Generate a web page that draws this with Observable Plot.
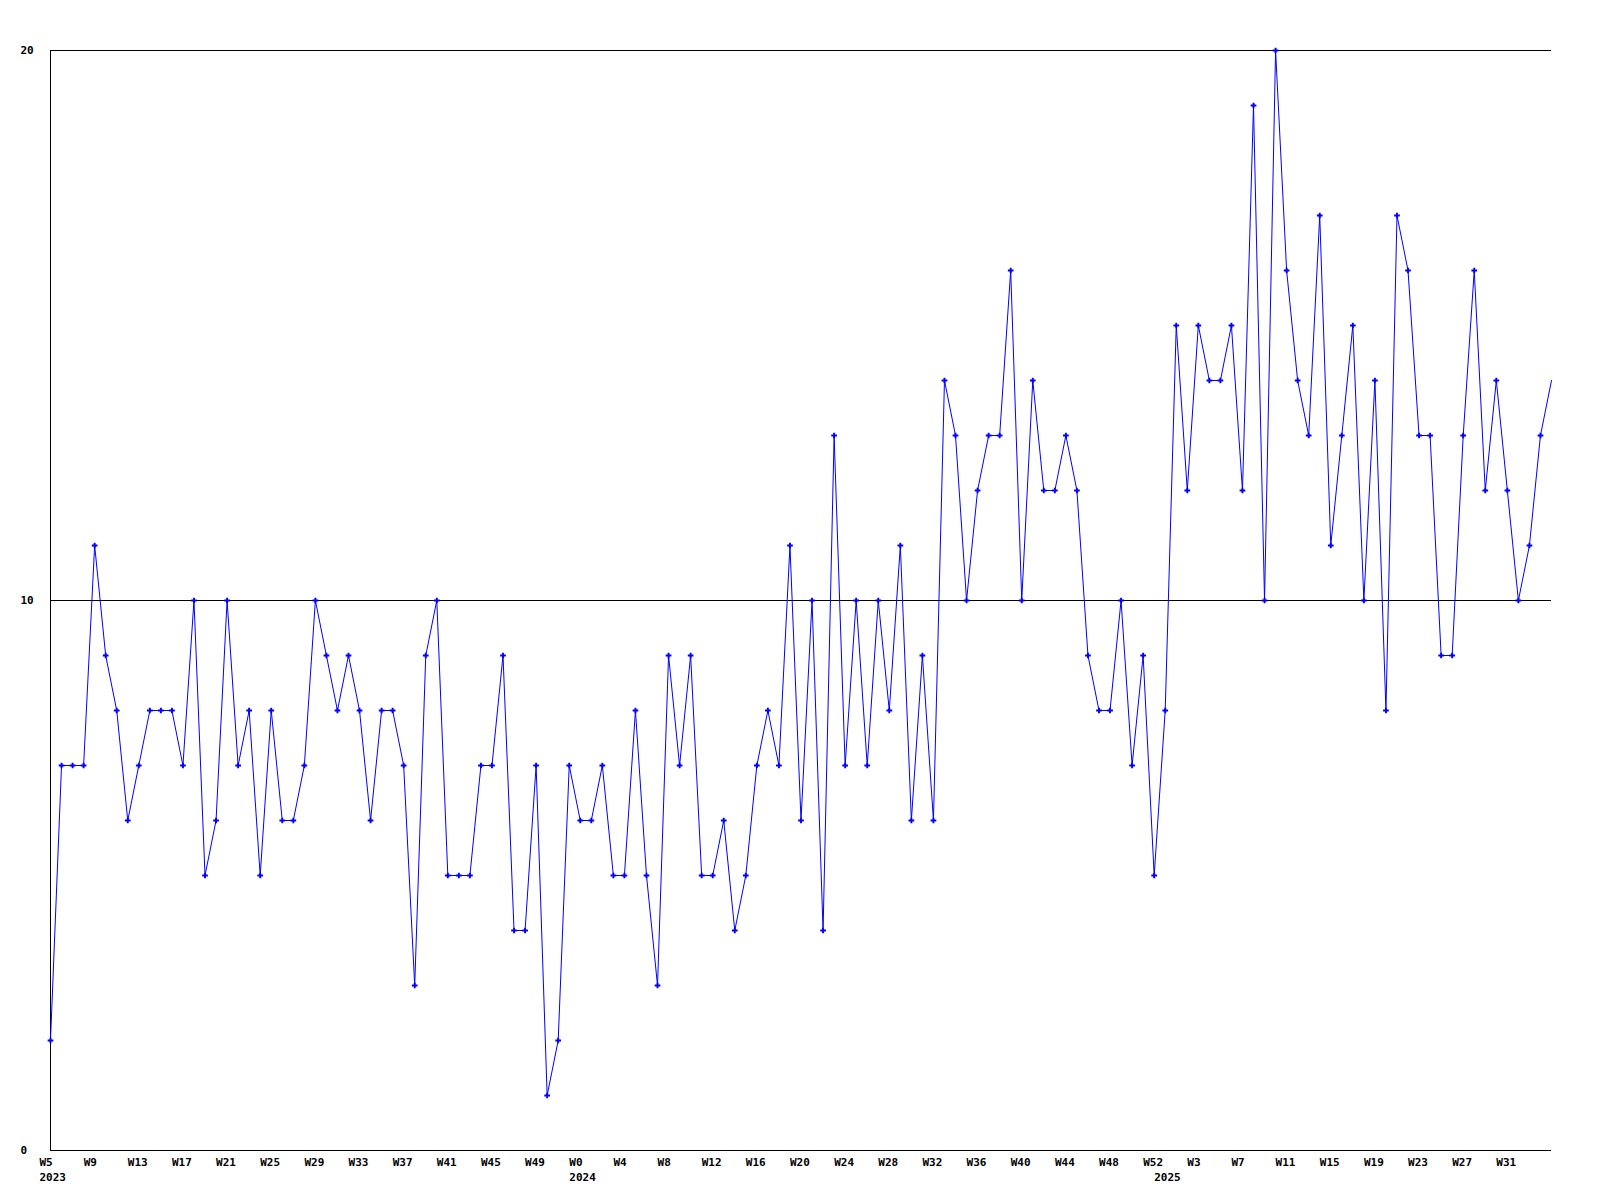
<!DOCTYPE html>
<html>
<head>
<meta charset="utf-8">
<script src="https://cdn.jsdelivr.net/npm/d3@7"></script>
<script src="https://cdn.jsdelivr.net/npm/@observablehq/plot@0.6"></script>
<style>
  html, body { margin: 0; padding: 0; background: #ffffff; }
  #chart svg { display: block; }
</style>
</head>
<body>
<div id="chart"></div>
<script>
// Weekly values, first point = 2023 W5
const values = [
  2, 7, 7, 7, 11, 9, 8, 6, 7, 8, 8, 8, 7, 10, 5, 6, 10, 7, 8, 5,
  8, 6, 6, 7, 10, 9, 8, 9, 8, 6, 8, 8, 7, 3, 9, 10, 5, 5, 5, 7,
  7, 9, 4, 4, 7, 1, 2, 7, 6, 6, 7, 5, 5, 8, 5, 3, 9, 7, 9, 5,
  5, 6, 4, 5, 7, 8, 7, 11, 6, 10, 4, 13, 7, 10, 7, 10, 8, 11, 6, 9,
  6, 14, 13, 10, 12, 13, 13, 16, 10, 14, 12, 12, 13, 12, 9, 8, 8, 10, 7, 9,
  5, 8, 15, 12, 15, 14, 14, 15, 12, 19, 10, 20, 16, 14, 13, 17, 11, 13, 15, 10,
  14, 8, 17, 16, 13, 13, 9, 9, 13, 16, 12, 14, 12, 10, 11, 13, 14
];

// Week tick labels, one every 4 points starting at the first point
const weekLabels = [
  "W5", "W9", "W13", "W17", "W21", "W25", "W29", "W33", "W37", "W41", "W45", "W49",
  "W0", "W4", "W8", "W12", "W16", "W20", "W24", "W28", "W32", "W36", "W40", "W44", "W48", "W52",
  "W3", "W7", "W11", "W15", "W19", "W23", "W27", "W31"
];
const weekStep = 4;

// Year labels and the point index where each year starts
const yearLabels = ["2023", "2024", "2025"];
const yearStarts = [0, 48, 101];

const yTicks = [0, 10, 20];

const points = values.map((v, i) => ({i, v}));
const weekTicks = weekLabels.map((_, k) => k * weekStep);
const weekFmt = new Map(weekTicks.map((t, k) => [t, weekLabels[k]]));
const yearFmt = new Map(yearStarts.map((t, k) => [t, yearLabels[k]]));

const font = "'DejaVu Sans Mono', 'Liberation Mono', monospace";

const chart = Plot.plot({
  width: 1600,
  height: 1200,
  marginLeft: 50,
  marginRight: 49,
  marginTop: 50,
  marginBottom: 50,
  style: {fontFamily: font, fontSize: "11px", fontWeight: "bold", color: "#000", background: "#fff"},
  x: {domain: [0, values.length - 1], axis: null, label: null},
  y: {domain: [0, 20], axis: null, label: null},
  marks: [
    Plot.ruleY(yTicks, {stroke: "#000", strokeWidth: 1, strokeOpacity: 1}),
    Plot.ruleX([0], {y1: 0, y2: 20, stroke: "#000", strokeWidth: 1}),
    Plot.axisY({ticks: yTicks, label: null, tickSize: 0, tickPadding: 30, textAnchor: "start", tickFormat: d => String(d), fontWeight: "bold"}),
    Plot.axisX({ticks: weekTicks, label: null, tickSize: 0, tickPadding: 8, textAnchor: "start", dx: -11, tickFormat: d => weekFmt.get(d), fontWeight: "bold"}),
    Plot.axisX({ticks: yearStarts, label: null, tickSize: 0, tickPadding: 23, textAnchor: "start", dx: -11, tickFormat: d => yearFmt.get(d), fontWeight: "bold"}),
    Plot.line(points, {x: "i", y: "v", stroke: "#0000ff", strokeWidth: 1}),
    Plot.dot(points.slice(0, -1), {x: "i", y: "v", symbol: "cross", r: 2.4, fill: "#0000ff", stroke: "none"})
  ]
});
document.getElementById("chart").appendChild(chart);
</script>
</body>
</html>
